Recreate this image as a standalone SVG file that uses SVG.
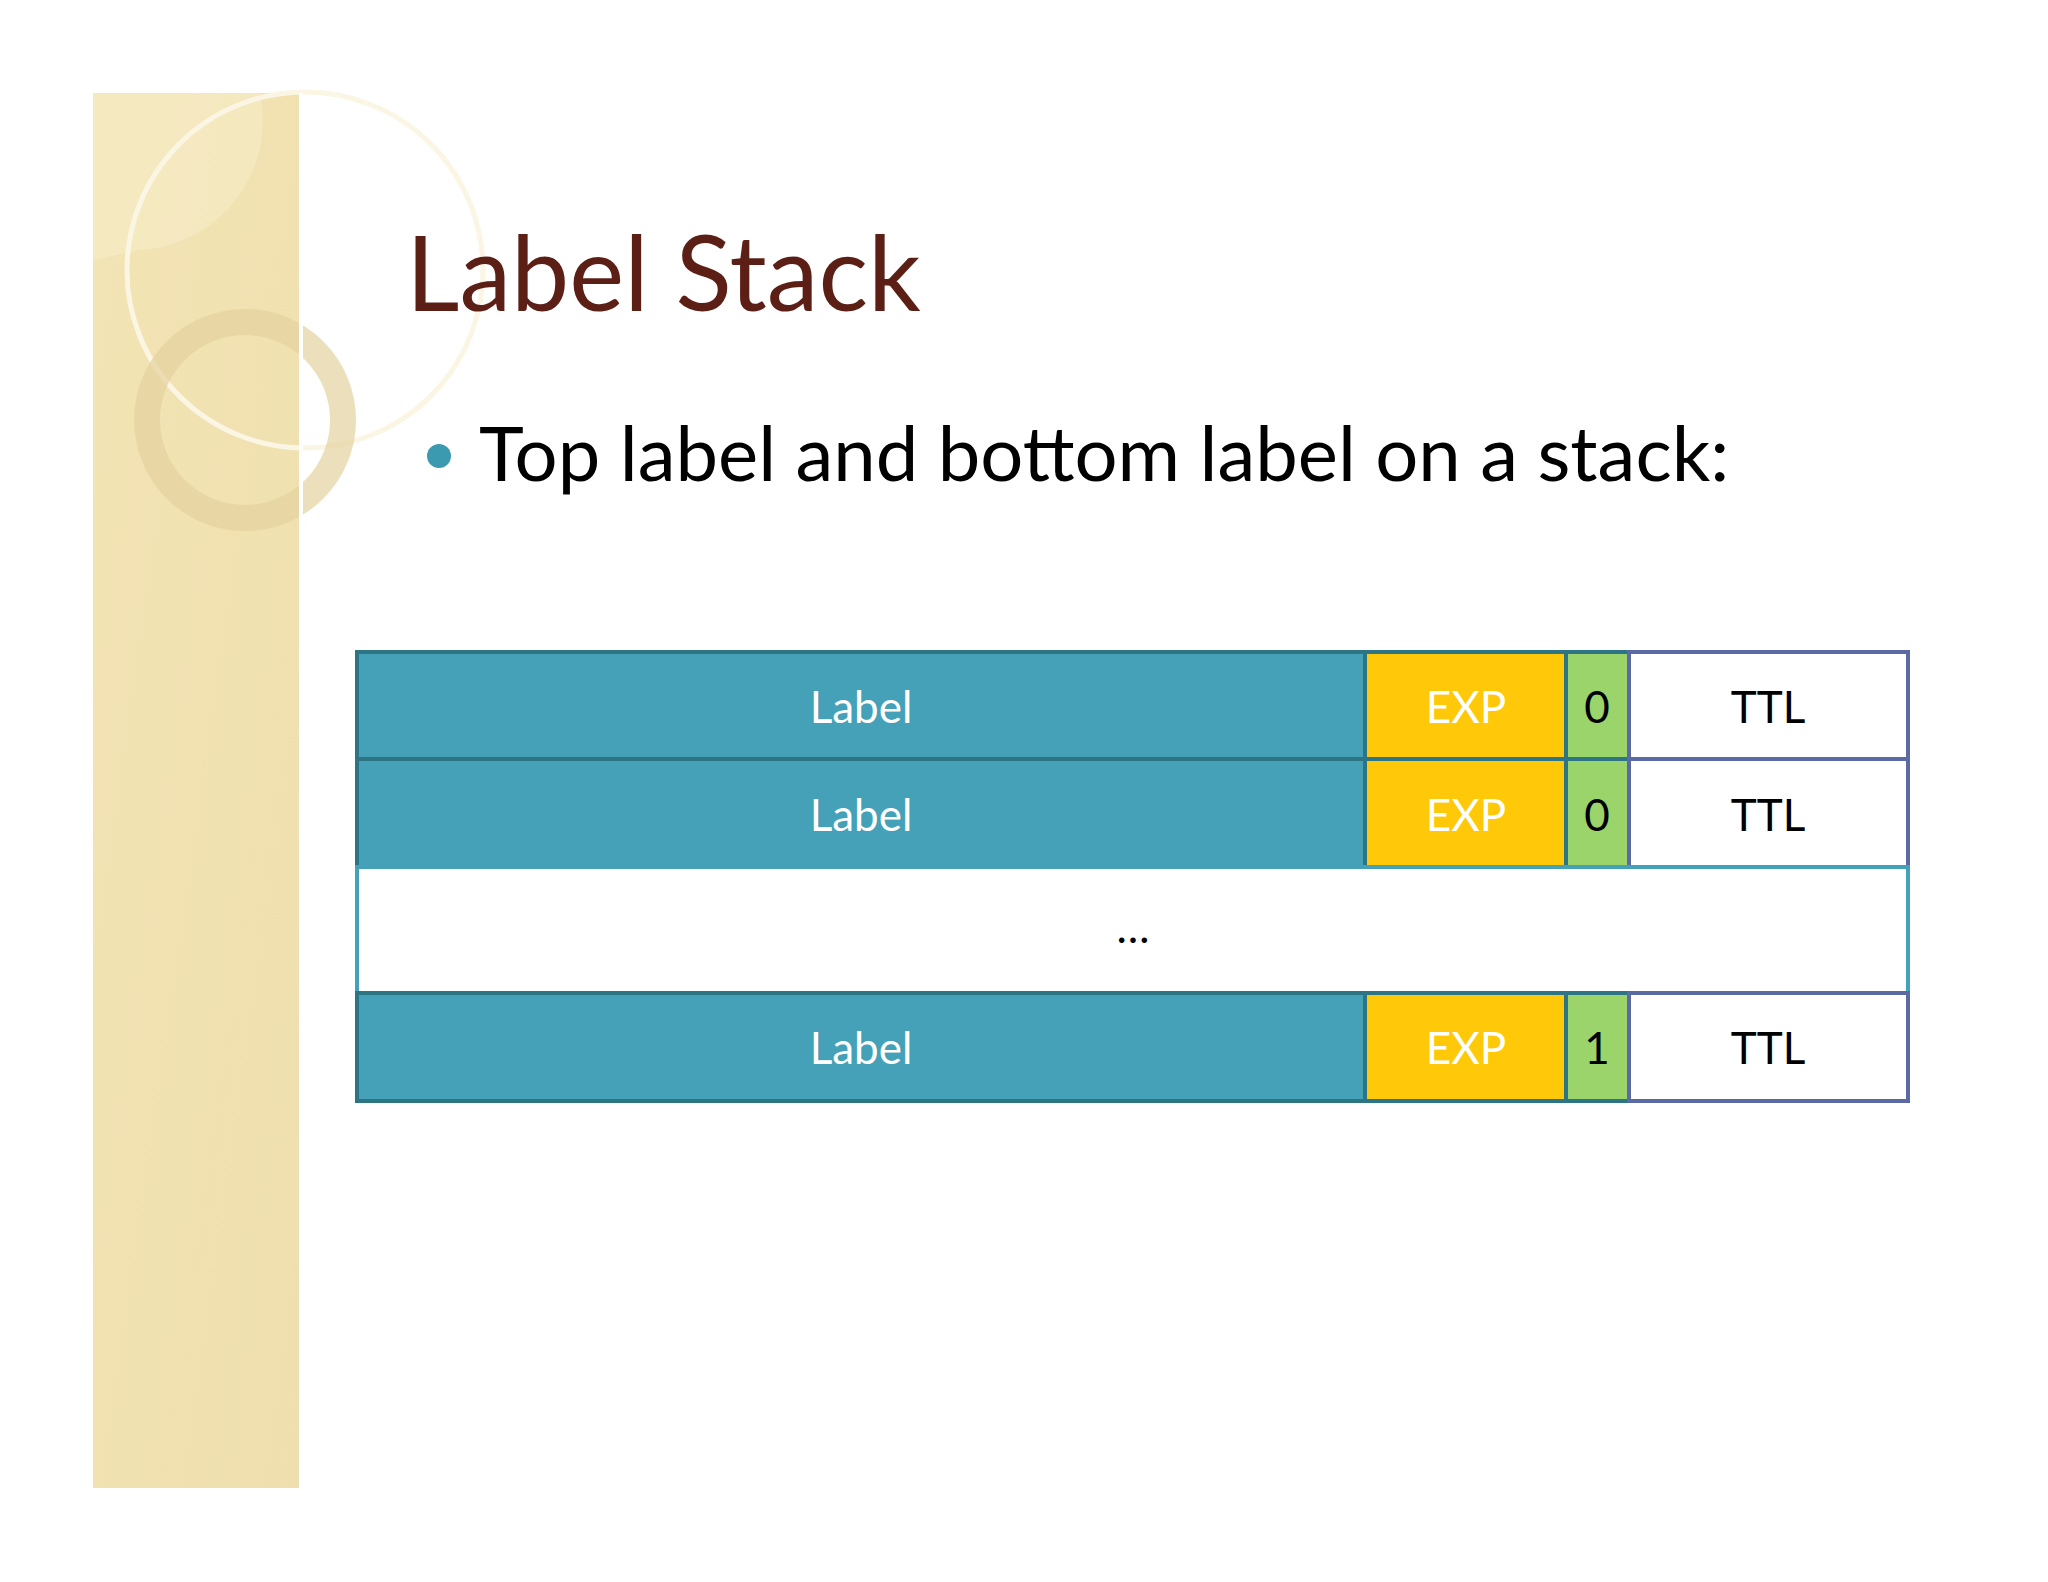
<svg xmlns="http://www.w3.org/2000/svg" width="2048" height="1582" viewBox="0 0 2048 1582">
<defs>
<style>
.t{font-family:Lato,"Open Sans",sans-serif;text-anchor:middle;font-size:44px}
.lab{fill:#45a1b8;stroke:#2d7585;stroke-width:4}
.exp{fill:#ffc90a;stroke:#2d7585;stroke-width:4}
.s{fill:#9bd46a;stroke:#2d7585;stroke-width:4}
.ttl{fill:#ffffff;stroke:#5b6aa5;stroke-width:4}
</style>
<linearGradient id="bg" x1="0" y1="0" x2="1" y2="1"><stop offset="0" stop-color="#f3e4b5"/><stop offset="1" stop-color="#efdfae"/></linearGradient>
</defs>
<rect width="2048" height="1582" fill="#ffffff"/>
<g id="band">
<rect x="93" y="93" width="206" height="1395" fill="url(#bg)"/>
<path d="M93 93 H260 A130 130 0 0 1 140 250 L93 260 Z" fill="#f7ecc8" opacity="0.6"/>
<circle cx="305" cy="270" r="178" fill="none" stroke="#fbf5e4" stroke-width="5"/>
<circle cx="245" cy="420" r="98" fill="none" stroke="#e4d2a0" stroke-width="26" opacity="0.7"/>
<rect x="299" y="93" width="4" height="1395" fill="#ffffff"/>
</g>
<g id="title"><text x="406" y="311" font-family="Lato,'Open Sans',sans-serif" font-size="104" fill="#5c1f16">Label Stack</text></g>
<g id="bullet">
<circle cx="439" cy="456" r="12" fill="#3c9ab0"/>
<text x="479" y="481" font-family="Lato,'Open Sans',sans-serif" font-size="76" fill="#000">Top label and bottom label on a stack:</text>
</g>
<g id="row1">
<rect class="lab" x="357" y="652" width="1008" height="107"/>
<rect class="exp" x="1365" y="652" width="201" height="107"/>
<rect class="s" x="1566" y="652" width="63" height="107"/>
<rect class="ttl" x="1629" y="652" width="279" height="107"/>
<text class="t" x="861" y="723" fill="#fff">Label</text>
<text class="t" x="1466" y="723" fill="#fff">EXP</text>
<text class="t" x="1597" y="723" fill="#000">0</text>
<text class="t" x="1768" y="723" fill="#000">TTL</text>
</g>
<g id="row2">
<rect class="lab" x="357" y="759" width="1008" height="108"/>
<rect class="exp" x="1365" y="759" width="201" height="108"/>
<rect class="s" x="1566" y="759" width="63" height="108"/>
<rect class="ttl" x="1629" y="759" width="279" height="108"/>
<text class="t" x="861" y="831" fill="#fff">Label</text>
<text class="t" x="1466" y="831" fill="#fff">EXP</text>
<text class="t" x="1597" y="831" fill="#000">0</text>
<text class="t" x="1768" y="831" fill="#000">TTL</text>
</g>
<g id="row3">
<rect x="357" y="867" width="1551" height="126" fill="#fff" stroke="#45a1b8" stroke-width="4"/>
<text class="t" x="1133" y="943" fill="#000">…</text>
</g>
<g id="row4">
<rect class="lab" x="357" y="993" width="1008" height="108"/>
<rect class="exp" x="1365" y="993" width="201" height="108"/>
<rect class="s" x="1566" y="993" width="63" height="108"/>
<rect class="ttl" x="1629" y="993" width="279" height="108"/>
<text class="t" x="861" y="1064" fill="#fff">Label</text>
<text class="t" x="1466" y="1064" fill="#fff">EXP</text>
<text class="t" x="1597" y="1064" fill="#000">1</text>
<text class="t" x="1768" y="1064" fill="#000">TTL</text>
</g>
<g id="connectors"/>
</svg>
